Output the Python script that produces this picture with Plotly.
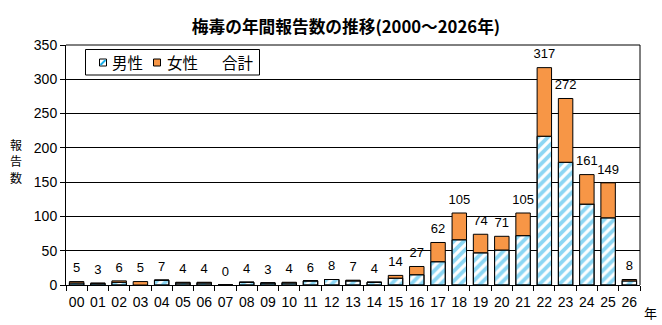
import plotly.graph_objects as go

years = [f"{i:02d}" for i in range(0, 27)]
male = [3, 2, 4, 0, 7, 3, 3, 0, 4, 3, 3, 6, 8, 6, 4, 10, 15, 34, 66, 47, 51, 72, 217, 179, 118, 98, 6]
female = [2, 1, 2, 5, 0, 1, 1, 0, 0, 0, 1, 0, 0, 1, 0, 4, 12, 28, 39, 27, 20, 33, 100, 93, 43, 51, 2]
totals = [5, 3, 6, 5, 7, 4, 4, 0, 4, 3, 4, 6, 8, 7, 4, 14, 27, 62, 105, 74, 71, 105, 317, 272, 161, 149, 8]
legend_labels = ["男性", "女性", "合計"]

FONT = "Liberation Sans, Arial, Noto Sans CJK JP, sans-serif"
JP = "Noto Sans CJK JP, sans-serif"
BLUE = "#1aaee8"
ORANGE = "#f79646"

L, R, T, B = 66, 22, 45, 40
W, H = 662, 325
PW, PH = W - L - R, H - T - B


def px_x(px):
    return (px - L) / PW


def px_y(py):
    return (H - B - py) / PH


fig = go.Figure()
fig.add_trace(go.Bar(
    x=years, y=male, showlegend=False, hoverinfo="skip",
    marker=dict(color="white", line=dict(color="black", width=1)),
))
fig.add_trace(go.Bar(
    x=years, y=male, name=legend_labels[0], showlegend=False,
    marker=dict(color="rgba(0,0,0,0)", line=dict(color="black", width=1),
                pattern=dict(shape="/", fgcolor=BLUE, fillmode="overlay",
                             size=7, solidity=0.55)),
))
fig.add_trace(go.Bar(
    x=years, y=female, base=male, name=legend_labels[1], showlegend=False,
    marker=dict(color=ORANGE, line=dict(color="black", width=1)),
))
fig.add_trace(go.Scatter(
    x=years, y=totals, name=legend_labels[2], mode="markers+text", showlegend=False,
    text=[str(t) for t in totals], textposition="top center",
    textfont=dict(size=13, color="black", family=FONT),
    marker=dict(size=8, color="rgba(0,0,0,0)"),
    cliponaxis=False, hoverinfo="skip",
))

annotations = []
for ch, py in zip(["報", "告", "数"], [144, 160, 177]):
    annotations.append(dict(text=ch, x=px_x(16), y=px_y(py), xref="paper", yref="paper",
                            xanchor="center", yanchor="middle", showarrow=False,
                            font=dict(size=12, family=JP)))
annotations.append(dict(text="年", x=px_x(650), y=px_y(312), xref="paper", yref="paper",
                        xanchor="center", yanchor="middle", showarrow=False,
                        font=dict(size=13, family=JP)))

shapes = []
shapes.append(dict(type="rect", xref="paper", yref="paper",
                   x0=px_x(85.5), x1=px_x(259.5), y0=px_y(75), y1=px_y(49.5),
                   line=dict(color="black", width=1), fillcolor="white", layer="above"))
shapes.append(dict(type="rect", xref="paper", yref="paper",
                   x0=px_x(99.5), x1=px_x(106.5), y0=px_y(66), y1=px_y(59),
                   line=dict(color="black", width=1), fillcolor="white", layer="above"))
shapes.append(dict(type="line", xref="paper", yref="paper",
                   x0=px_x(100.5), x1=px_x(105.5), y0=px_y(65), y1=px_y(60),
                   line=dict(color=BLUE, width=2), layer="above"))
shapes.append(dict(type="rect", xref="paper", yref="paper",
                   x0=px_x(153.5), x1=px_x(160.5), y0=px_y(66), y1=px_y(59),
                   line=dict(color="black", width=1), fillcolor=ORANGE, layer="above"))
for text, px in zip(legend_labels, [110, 165, 220]):
    annotations.append(dict(text=text, x=px_x(px), y=px_y(62), xref="paper", yref="paper",
                            xanchor="left", yanchor="middle", showarrow=False,
                            font=dict(size=15.5, family=JP)))

shapes.append(dict(type="line", xref="paper", yref="paper", x0=0, x1=1, y0=1, y1=1,
                   line=dict(color="black", width=1)))
shapes.append(dict(type="line", xref="paper", yref="paper", x0=1, x1=1, y0=0, y1=1,
                   line=dict(color="black", width=1)))

fig.update_layout(
    width=W, height=H,
    margin=dict(l=L, r=R, t=T, b=B),
    barmode="overlay", bargap=0.32,
    plot_bgcolor="white", paper_bgcolor="white",
    font=dict(family=FONT, size=14, color="black"),
    title=dict(text="<b>梅毒の年間報告数の推移(2000～2026年)</b>", x=px_x(346), xanchor="center",
               y=1 - 27 / H, yanchor="middle", xref="paper",
               font=dict(size=16.7, family=JP)),
    showlegend=False,
    xaxis=dict(type="category", range=[-0.5, len(years) - 0.5],
               showline=True, linecolor="black", linewidth=1,
               ticks="outside", tickson="boundaries", ticklen=5, tickcolor="black",
               tickangle=0, tickfont=dict(size=14), ticklabelstandoff=4),
    yaxis=dict(range=[0, 350], dtick=50, showline=True, linecolor="black", linewidth=1,
               ticks="outside", ticklen=5, tickcolor="black", showgrid=True,
               gridcolor="black", gridwidth=1, zeroline=False, tickfont=dict(size=14)),
    annotations=annotations,
    shapes=shapes,
)

fig.write_html("out.html")
